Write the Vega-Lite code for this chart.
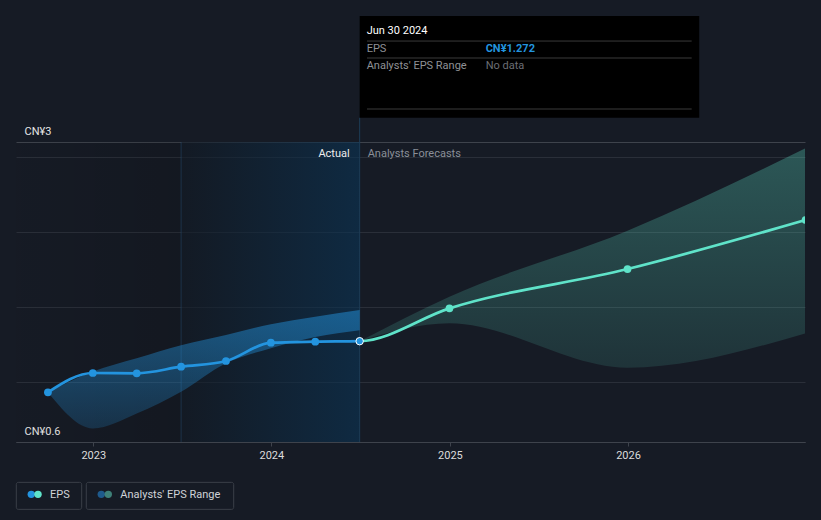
{
  "$schema": "https://vega.github.io/schema/vega-lite/v6.json",
  "width": 789,
  "height": 300,
  "autosize": {"type": "none"},
  "padding": {"left": 16, "right": 16, "top": 142, "bottom": 78},
  "background": "#161b25",
  "config": {"view": {"stroke": null}, "font": "Roboto"},
  "data": {"values": [{}]},
  "datasets": {
    "eps": [
      {"date": "2022-09-30", "eps": 0.931, "kind": "Actual"},
      {"date": "2022-12-31", "eps": 1.06, "kind": "Actual"},
      {"date": "2023-03-31", "eps": 1.058, "kind": "Actual"},
      {"date": "2023-06-30", "eps": 1.102, "kind": "Actual"},
      {"date": "2023-09-30", "eps": 1.14, "kind": "Actual"},
      {"date": "2023-12-31", "eps": 1.262, "kind": "Actual"},
      {"date": "2024-03-31", "eps": 1.269, "kind": "Actual"},
      {"date": "2024-06-30", "eps": 1.272, "kind": "Actual"},
      {"date": "2024-12-31", "eps": 1.491, "kind": "Forecast"},
      {"date": "2025-12-31", "eps": 1.753, "kind": "Forecast"},
      {"date": "2026-12-31", "eps": 2.08, "kind": "Forecast"}
    ],
    "range": [
      {"date": "2022-09-30", "low": 0.931, "high": 0.931, "kind": "Actual"},
      {"date": "2022-12-31", "low": 0.69, "high": 1.07, "kind": "Actual"},
      {"date": "2023-03-31", "low": 0.79, "high": 1.158, "kind": "Actual"},
      {"date": "2023-06-30", "low": 0.935, "high": 1.245, "kind": "Actual"},
      {"date": "2023-09-30", "low": 1.125, "high": 1.313, "kind": "Actual"},
      {"date": "2023-12-31", "low": 1.225, "high": 1.385, "kind": "Actual"},
      {"date": "2024-03-31", "low": 1.3, "high": 1.435, "kind": "Actual"},
      {"date": "2024-06-30", "low": 1.345, "high": 1.48, "kind": "Actual"},
      {"date": "2024-06-30", "low": 1.272, "high": 1.272, "kind": "Forecast"},
      {"date": "2024-12-31", "low": 1.391, "high": 1.569, "kind": "Forecast"},
      {"date": "2025-12-31", "low": 1.095, "high": 2.009, "kind": "Forecast"},
      {"date": "2026-12-31", "low": 1.325, "high": 2.558, "kind": "Forecast"}
    ]
  },
  "layer": [
    {
      "mark": {"type": "rect", "fill": {"gradient": "linear", "x1": 0, "y1": 0, "x2": 1, "y2": 0, "stops": [{"offset": 0, "color": "rgba(0,0,0,0.02)"}, {"offset": 1, "color": "rgba(0,0,0,0.12)"}]}},
      "encoding": {
        "x": {"datum": {"year": 2022, "month": 7, "date": 26, "hours": 14}, "type": "temporal",
          "scale": {"domain": [{"year": 2022, "month": 7, "date": 26, "hours": 14}, {"year": 2026, "month": 12, "date": 29, "hours": 19}], "nice": false},
          "axis": {"title": null, "values": [{"year": 2023}, {"year": 2024}, {"year": 2025}, {"year": 2026}], "format": "%Y", "grid": false, "domainColor": "#3e434c", "tickColor": "#3e434c", "tickSize": 4, "labelColor": "#dcdcdc", "labelFontSize": 11, "labelPadding": 3, "labelFlush": false, "labelOverlap": false}},
        "x2": {"datum": {"year": 2023, "month": 6, "date": 30}},
        "y": {"datum": 0.6, "type": "quantitative",
          "scale": {"domain": [0.6, 2.6], "nice": false, "zero": false},
          "axis": {"title": null, "grid": true, "gridWidth": 1, "values": [0.6, 1, 1.5, 2, 2.5, 2.6], "domain": false, "ticks": false, "tickSize": 0, "labelAlign": "left", "labelPadding": -8, "labelBaseline": "alphabetic", "labelOffset": -8, "labelFontSize": 11, "labelColor": "#e6e6e6", "labelOverlap": false, "labelFlush": false,
            "labelExpr": "datum.value == 0.6 ? 'CN¥0.6' : (datum.value == 2.6 ? 'CN¥3' : '')",
            "gridColor": {"condition": {"test": "datum.value == 2.6 || datum.value == 0.6", "value": "#3e434c"}, "value": "#2a2f39"}}},
        "y2": {"datum": 2.6}
      }
    },
    {
      "mark": {"type": "rect", "fill": {"gradient": "linear", "x1": 0, "y1": 0, "x2": 1, "y2": 0, "stops": [{"offset": 0, "color": "rgba(17,25,35,0.6)"}, {"offset": 1, "color": "rgba(10,52,85,0.6)"}]}},
      "encoding": {
        "x": {"datum": {"year": 2023, "month": 6, "date": 30}, "type": "temporal"},
        "x2": {"datum": {"year": 2024, "month": 6, "date": 30}},
        "y": {"datum": 0.6, "type": "quantitative"},
        "y2": {"datum": 2.6}
      }
    },
    {
      "mark": {"type": "rule", "color": "rgba(45,100,145,0.35)", "strokeWidth": 1},
      "encoding": {
        "x": {"datum": {"year": 2023, "month": 6, "date": 30}, "type": "temporal"},
        "y": {"datum": 0.6, "type": "quantitative"},
        "y2": {"datum": 2.6}
      }
    },
    {
      "mark": {"type": "rule", "color": "#1d3d57", "strokeWidth": 1},
      "encoding": {
        "x": {"datum": {"year": 2024, "month": 6, "date": 30}, "type": "temporal"},
        "y": {"datum": 0.6, "type": "quantitative"},
        "y2": {"datum": 2.762}
      }
    },
    {
      "data": {"name": "range"},
      "transform": [{"filter": {"field": "kind", "equal": "Actual"}}],
      "mark": {"type": "area", "interpolate": "monotone", "fill": {"gradient": "linear", "x1": 0, "y1": 0, "x2": 0, "y2": 1, "stops": [{"offset": 0, "color": "rgba(35,148,223,0.5)"}, {"offset": 1, "color": "rgba(35,148,223,0.2)"}]}},
      "encoding": {
        "x": {"field": "date", "type": "temporal"},
        "y": {"field": "low", "type": "quantitative"},
        "y2": {"field": "high"}
      }
    },
    {
      "data": {"name": "range"},
      "transform": [{"filter": {"field": "kind", "equal": "Forecast"}}],
      "mark": {"type": "area", "interpolate": "monotone", "clip": true, "fill": {"gradient": "linear", "x1": 0, "y1": 0, "x2": 0, "y2": 1, "stops": [{"offset": 0, "color": "rgba(95,227,201,0.3)"}, {"offset": 1, "color": "rgba(95,227,201,0.12)"}]}},
      "encoding": {
        "x": {"field": "date", "type": "temporal"},
        "y": {"field": "low", "type": "quantitative"},
        "y2": {"field": "high"}
      }
    },
    {
      "data": {"name": "eps"},
      "mark": {"type": "line", "interpolate": "monotone", "strokeWidth": 2.7, "clip": true,
        "stroke": {"gradient": "linear", "x1": 0, "y1": 0, "x2": 1, "y2": 0, "stops": [{"offset": 0, "color": "#2394df"}, {"offset": 0.4115, "color": "#2394df"}, {"offset": 0.4115, "color": "#5fe3c9"}, {"offset": 1, "color": "#5fe3c9"}]}},
      "encoding": {
        "x": {"field": "date", "type": "temporal"},
        "y": {"field": "eps", "type": "quantitative"}
      }
    },
    {
      "data": {"name": "eps"},
      "transform": [{"filter": {"not": {"field": "date", "equal": {"year": 2024, "month": 6, "date": 30}}}}],
      "mark": {"type": "point", "filled": true, "size": 60, "opacity": 1, "clip": true},
      "encoding": {
        "x": {"field": "date", "type": "temporal"},
        "y": {"field": "eps", "type": "quantitative"},
        "color": {"field": "kind", "type": "nominal", "scale": {"domain": ["Actual", "Forecast"], "range": ["#2394df", "#5fe3c9"]}, "legend": null}
      }
    },
    {
      "data": {"name": "eps"},
      "transform": [{"filter": {"field": "date", "equal": {"year": 2024, "month": 6, "date": 30}}}],
      "mark": {"type": "point", "filled": true, "size": 55, "opacity": 1, "fill": "#2394df", "stroke": "#ffffff", "strokeWidth": 1},
      "encoding": {
        "x": {"field": "date", "type": "temporal"},
        "y": {"field": "eps", "type": "quantitative"}
      }
    },
    {
      "mark": {"type": "text", "text": "Actual", "align": "right", "baseline": "middle", "dx": -10, "fontSize": 11, "color": "#ededed"},
      "encoding": {
        "x": {"datum": {"year": 2024, "month": 6, "date": 30}, "type": "temporal"},
        "y": {"datum": 2.52, "type": "quantitative"}
      }
    },
    {
      "mark": {"type": "text", "text": "Analysts Forecasts", "align": "left", "baseline": "middle", "dx": 8, "fontSize": 11, "color": "#8a8f98"},
      "encoding": {
        "x": {"datum": {"year": 2024, "month": 6, "date": 30}, "type": "temporal"},
        "y": {"datum": 2.52, "type": "quantitative"}
      }
    },
    {
      "mark": {"type": "rect", "fill": "#000000"},
      "encoding": {
        "x": {"datum": {"year": 2024, "month": 6, "date": 30}, "type": "temporal"},
        "x2": {"datum": {"year": 2026, "month": 5, "date": 27}},
        "y": {"datum": 3.44, "type": "quantitative"},
        "y2": {"datum": 2.762}
      }
    },
    {
      "mark": {"type": "rule", "color": "#3a3a3a", "strokeWidth": 1},
      "encoding": {
        "x": {"datum": {"year": 2024, "month": 7, "date": 15}, "type": "temporal"},
        "x2": {"datum": {"year": 2026, "month": 5, "date": 11, "hours": 12}},
        "y": {"datum": 3.273, "type": "quantitative"}
      }
    },
    {
      "mark": {"type": "rule", "color": "#3a3a3a", "strokeWidth": 1},
      "encoding": {
        "x": {"datum": {"year": 2024, "month": 7, "date": 15}, "type": "temporal"},
        "x2": {"datum": {"year": 2026, "month": 5, "date": 11, "hours": 12}},
        "y": {"datum": 3.16, "type": "quantitative"}
      }
    },
    {
      "mark": {"type": "rule", "color": "#3a3a3a", "strokeWidth": 1},
      "encoding": {
        "x": {"datum": {"year": 2024, "month": 7, "date": 15}, "type": "temporal"},
        "x2": {"datum": {"year": 2026, "month": 5, "date": 11, "hours": 12}},
        "y": {"datum": 2.82, "type": "quantitative"}
      }
    },
    {
      "mark": {"type": "text", "text": "Jun 30 2024", "align": "left", "baseline": "middle", "dx": 7, "fontSize": 11, "color": "#ffffff"},
      "encoding": {
        "x": {"datum": {"year": 2024, "month": 6, "date": 30}, "type": "temporal"},
        "y": {"datum": 3.342, "type": "quantitative"}
      }
    },
    {
      "mark": {"type": "text", "text": "EPS", "align": "left", "baseline": "middle", "dx": 7, "fontSize": 11, "color": "#8f9196"},
      "encoding": {
        "x": {"datum": {"year": 2024, "month": 6, "date": 30}, "type": "temporal"},
        "y": {"datum": 3.222, "type": "quantitative"}
      }
    },
    {
      "mark": {"type": "text", "text": "CN¥1.272", "align": "left", "baseline": "middle", "dx": 126, "fontSize": 11, "fontWeight": "bold", "color": "#2394df"},
      "encoding": {
        "x": {"datum": {"year": 2024, "month": 6, "date": 30}, "type": "temporal"},
        "y": {"datum": 3.222, "type": "quantitative"}
      }
    },
    {
      "mark": {"type": "text", "text": "Analysts' EPS Range", "align": "left", "baseline": "middle", "dx": 7, "fontSize": 11, "color": "#8f9196"},
      "encoding": {
        "x": {"datum": {"year": 2024, "month": 6, "date": 30}, "type": "temporal"},
        "y": {"datum": 3.105, "type": "quantitative"}
      }
    },
    {
      "mark": {"type": "text", "text": "No data", "align": "left", "baseline": "middle", "dx": 126, "fontSize": 11, "color": "#6b6e74"},
      "encoding": {
        "x": {"datum": {"year": 2024, "month": 6, "date": 30}, "type": "temporal"},
        "y": {"datum": 3.105, "type": "quantitative"}
      }
    },
    {
      "mark": {"type": "rect", "filled": false, "stroke": "#3a3f48", "strokeWidth": 1, "cornerRadius": 2},
      "encoding": {
        "x": {"datum": {"year": 2022, "month": 7, "date": 27, "hours": 5}, "type": "temporal"},
        "x2": {"datum": {"year": 2022, "month": 12, "date": 8, "hours": 5}},
        "y": {"datum": 0.331, "type": "quantitative"},
        "y2": {"datum": 0.151}
      }
    },
    {
      "mark": {"type": "rect", "filled": false, "stroke": "#3a3f48", "strokeWidth": 1, "cornerRadius": 2},
      "encoding": {
        "x": {"datum": {"year": 2022, "month": 12, "date": 17, "hours": 16}, "type": "temporal"},
        "x2": {"datum": {"year": 2023, "month": 10, "date": 15, "hours": 19}},
        "y": {"datum": 0.331, "type": "quantitative"},
        "y2": {"datum": 0.151}
      }
    },
    {
      "mark": {"type": "point", "filled": true, "size": 55, "opacity": 1, "color": "#2394df"},
      "encoding": {
        "x": {"datum": {"year": 2022, "month": 8, "date": 26, "hours": 22}, "type": "temporal"},
        "y": {"datum": 0.251, "type": "quantitative"}
      }
    },
    {
      "mark": {"type": "point", "filled": true, "size": 55, "opacity": 1, "color": "#5fe3c9"},
      "encoding": {
        "x": {"datum": {"year": 2022, "month": 9, "date": 9, "hours": 17}, "type": "temporal"},
        "y": {"datum": 0.251, "type": "quantitative"}
      }
    },
    {
      "mark": {"type": "point", "filled": true, "size": 55, "opacity": 1, "color": "#1e5a8c"},
      "encoding": {
        "x": {"datum": {"year": 2023, "month": 1, "date": 17, "hours": 10}, "type": "temporal"},
        "y": {"datum": 0.251, "type": "quantitative"}
      }
    },
    {
      "mark": {"type": "point", "filled": true, "size": 55, "opacity": 1, "color": "#3e8078"},
      "encoding": {
        "x": {"datum": {"year": 2023, "month": 1, "date": 31, "hours": 18}, "type": "temporal"},
        "y": {"datum": 0.251, "type": "quantitative"}
      }
    },
    {
      "mark": {"type": "text", "text": "EPS", "align": "left", "baseline": "middle", "dx": 33.7, "fontSize": 11, "color": "#d0d3d8"},
      "encoding": {
        "x": {"datum": {"year": 2022, "month": 7, "date": 27, "hours": 5}, "type": "temporal"},
        "y": {"datum": 0.25, "type": "quantitative"}
      }
    },
    {
      "mark": {"type": "text", "text": "Analysts' EPS Range", "align": "left", "baseline": "middle", "dx": 34, "fontSize": 11, "color": "#d0d3d8"},
      "encoding": {
        "x": {"datum": {"year": 2022, "month": 12, "date": 17, "hours": 16}, "type": "temporal"},
        "y": {"datum": 0.25, "type": "quantitative"}
      }
    }
  ]
}
